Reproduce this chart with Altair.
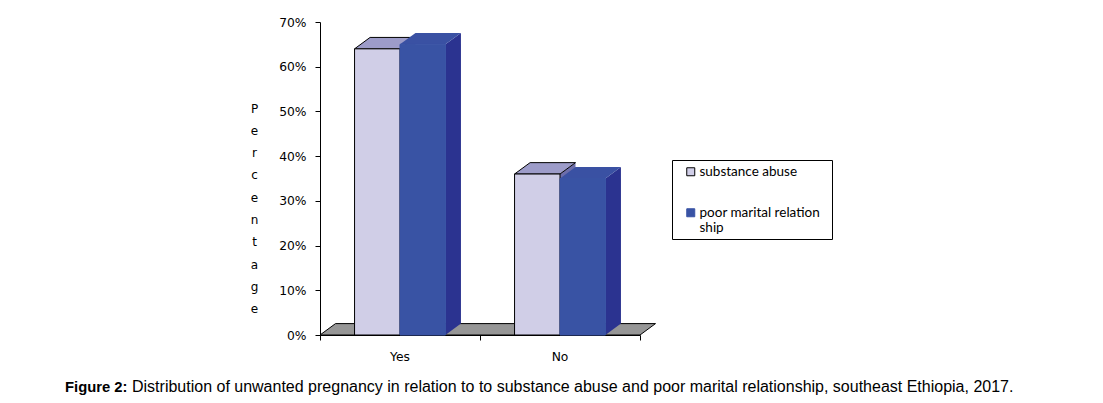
import altair as alt
import pandas as pd

# ---------------- data ----------------
categories = ["Yes", "No"]
series = ["substance abuse", "poor marital relation ship"]
substance_abuse = [64, 36]
poor_marital = [65, 35]
y_ticks = [0, 10, 20, 30, 40, 50, 60, 70]
y_title = "Percentage"
caption_bold = "Figure 2:"
caption_text = ("Distribution of unwanted pregnancy in relation to to substance abuse and "
                "poor marital relationship, southeast Ethiopia, 2017.")

# ---------------- style ----------------
W, H = 320, 313
BAR_W = 0.284      # bar width in x-units (one category = 1 unit)
DX = 0.097         # 3-D depth, x-units
DY = 2.55          # 3-D depth, y-units (percent)
FRONT = ["#D0CEE7", "#3953A4"]
TOP = ["#9D9CC9", "#3A51A3"]
SIDE = ["#6C6DAA", "#2B3390"]
STROKE = ["black", "#3953A4"]
FLOOR = "#969696"
AXFONT = "DejaVu Sans"

values = {series[0]: substance_abuse, series[1]: poor_marital}
front_rows, top_rows, side_rows = [], [], []
for ci, cat in enumerate(categories):
    c = ci + 0.5
    for si, s in enumerate(series):
        v = values[s][ci]
        x0 = c - BAR_W + si * BAR_W
        x1 = x0 + BAR_W
        bid = f"{ci}-{si}"
        front_rows.append(dict(cat=cat, series=s, x0=x0, x1=x1, v=v))
        top_rows += [dict(id=bid, si=si, y=v, xa=x0, xb=x1),
                     dict(id=bid, si=si, y=v + DY, xa=x0 + DX, xb=x1 + DX)]
        side_rows += [dict(id=bid, si=si, x=x1, ylo=0, yhi=v),
                      dict(id=bid, si=si, x=x1 + DX, ylo=DY, yhi=v + DY)]
front_df = pd.DataFrame(front_rows)
top_df = pd.DataFrame(top_rows)
side_df = pd.DataFrame(side_rows)
floor_df = pd.DataFrame([dict(y=0, xa=0, xb=len(categories)),
                         dict(y=DY, xa=DX, xb=len(categories) + DX)])
cat_df = pd.DataFrame(dict(cat=categories, x=[i + 0.5 for i in range(len(categories))]))

xs = alt.Scale(domain=[0, len(categories)], nice=False, zero=False)
ys = alt.Scale(domain=[0, 70], nice=False, zero=False)

x_axis = alt.Axis(values=list(range(len(categories) + 1)), labels=False, title=None,
                  grid=False, tickSize=5, domainColor="black", tickColor="black")
y_axis = alt.Axis(values=y_ticks, labelExpr="datum.value + '%'", grid=False, tickSize=5,
                  domainColor="black", tickColor="black", labelPadding=9,
                  labelFont=AXFONT, labelFontSize=12.3, labelColor="black",
                  title=list(y_title), titleAngle=0, titleAlign="center",
                  titleBaseline="alphabetic", titleX=-66, titleY=90,
                  titleLineHeight=22.3, titleFont=AXFONT, titleFontSize=12,
                  titleFontWeight="normal", titleColor="black")

floor = alt.Chart(floor_df).mark_area(orient="horizontal", color=FLOOR, stroke="black",
                                      strokeWidth=1).encode(
    y=alt.Y("y:Q", scale=ys, axis=y_axis),
    x=alt.X("xa:Q", scale=xs, axis=x_axis, stack=None),
    x2="xb:Q",
)

layers = [floor]
for si in range(len(series)):
    layers.append(alt.Chart(side_df[side_df.si == si]).mark_area(
        orient="vertical", color=SIDE[si]).encode(
        x=alt.X("x:Q", scale=xs, axis=x_axis),
        y=alt.Y("yhi:Q", scale=ys, axis=y_axis, stack=None),
        y2="ylo:Q",
        detail="id:N",
    ))
for si in range(len(series)):
    layers.append(alt.Chart(top_df[top_df.si == si]).mark_area(
        orient="horizontal", color=TOP[si],
        stroke=STROKE[si], strokeWidth=1 if si == 0 else 0).encode(
        y=alt.Y("y:Q", scale=ys, axis=y_axis),
        x=alt.X("xa:Q", scale=xs, axis=x_axis, stack=None),
        x2="xb:Q",
        detail="id:N",
    ))

legend_labels = (f"datum.label == '{series[1]}' ? ['poor marital relation', 'ship'] : datum.label")
leg = alt.Legend(title=None, orient="none", legendX=364, legendY=143, symbolType="square",
                 symbolSize=64, symbolStrokeWidth=1, labelFont="Lato", labelFontSize=13.5,
                 labelColor="black", labelOffset=2, rowPadding=26, labelExpr=legend_labels,
                 padding=0)
front = alt.Chart(front_df).mark_rect(strokeWidth=1).encode(
    x=alt.X("x0:Q", scale=xs, axis=x_axis),
    x2="x1:Q",
    y=alt.Y("v:Q", scale=ys, axis=y_axis),
    y2=alt.datum(0),
    fill=alt.Fill("series:N", scale=alt.Scale(domain=series, range=FRONT), legend=leg),
    stroke=alt.Stroke("series:N", scale=alt.Scale(domain=series, range=STROKE), legend=leg),
)
layers.append(front)

cat_labels = alt.Chart(cat_df).mark_text(font=AXFONT, fontSize=12.3, color="black",
                                         baseline="alphabetic", align="center").encode(
    x=alt.X("x:Q", scale=xs, axis=x_axis),
    y=alt.value(H + 25.7),
    text="cat:N",
)
layers.append(cat_labels)

frame = alt.Chart(pd.DataFrame({"a": [0]})).mark_rect(
    fillOpacity=0, stroke="black", strokeWidth=1).encode(
    x=alt.value(352.5), x2=alt.value(512.5), y=alt.value(138.5), y2=alt.value(217.5))
layers.append(frame)

cap_df = pd.DataFrame({"t": [caption_bold], "u": [caption_text]})
cap1 = alt.Chart(cap_df).mark_text(font="Liberation Sans", fontSize=14.8, fontWeight="bold",
                                   color="black", align="left", baseline="alphabetic").encode(
    x=alt.value(-255), y=alt.value(370), text="t:N")
cap2 = alt.Chart(cap_df).mark_text(font="Liberation Sans", fontSize=16, color="black",
                                   align="left", baseline="alphabetic").encode(
    x=alt.value(-188), y=alt.value(370), text="u:N")
layers += [cap1, cap2]

chart = alt.layer(*layers).properties(
    width=W, height=H,
    autosize=alt.AutoSizeParams(type="none"),
    padding={"left": 312, "top": 14, "right": 455, "bottom": 60},
    background="white",
).configure_view(stroke=None)

chart.save("out.html", embed_options={"renderer": "svg", "actions": False})
